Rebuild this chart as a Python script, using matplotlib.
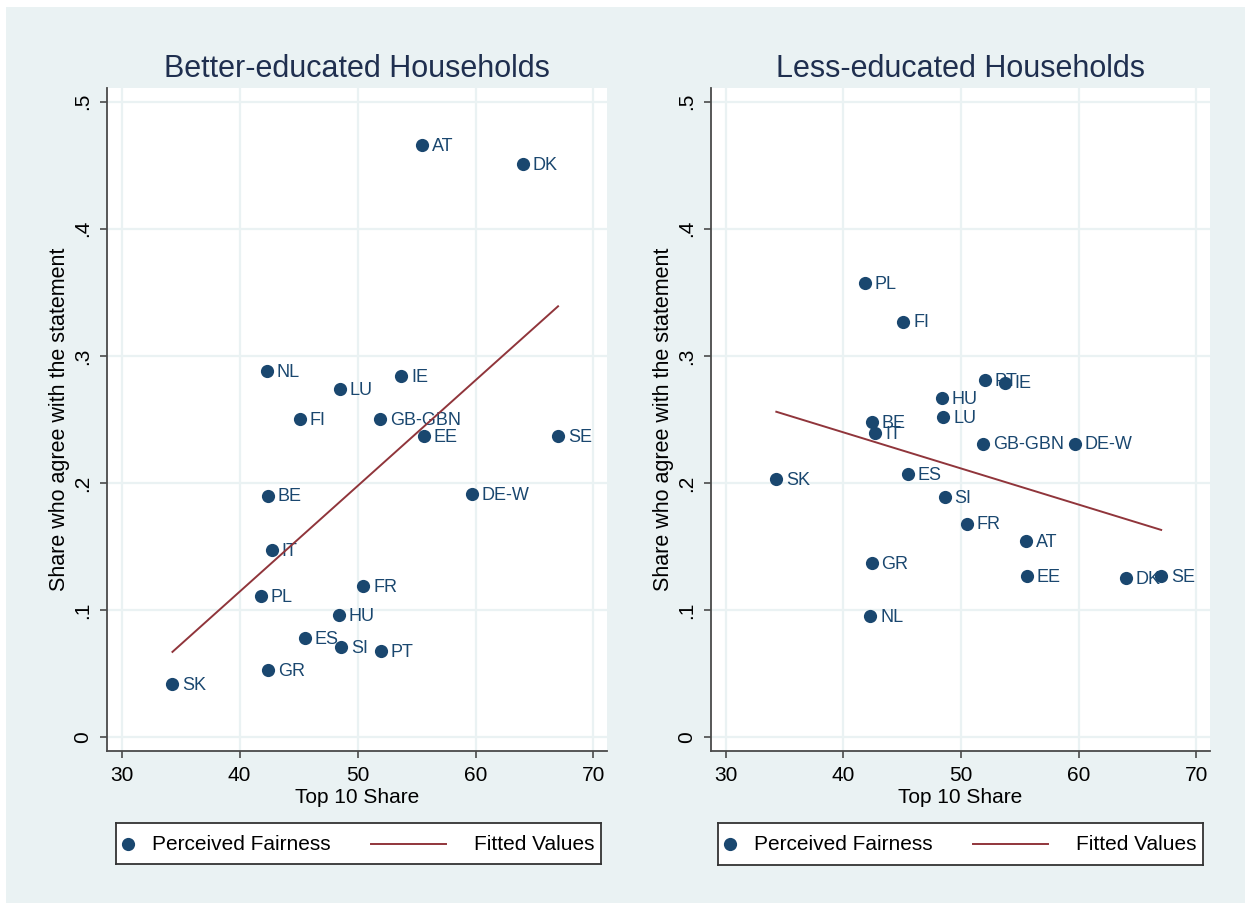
import matplotlib
matplotlib.use("Agg")
import matplotlib.pyplot as plt
from matplotlib.patches import Rectangle

plt.rcParams['font.family'] = ['Liberation Sans', 'DejaVu Sans']

# ---------------- data ----------------
countries = ["SK", "PL", "NL", "GR", "BE", "IT", "FI", "ES", "HU", "LU",
             "SI", "FR", "GB-GBN", "PT", "IE", "AT", "EE", "DE-W", "DK", "SE"]
top10_share = [34.3, 41.8, 42.3, 42.4, 42.4, 42.7, 45.1, 45.5, 48.4, 48.5,
               48.6, 50.5, 51.9, 52.0, 53.7, 55.5, 55.6, 59.7, 64.0, 67.0]
better_educated = [0.042, 0.111, 0.288, 0.053, 0.190, 0.147, 0.250, 0.078, 0.096, 0.274,
                   0.071, 0.119, 0.250, 0.068, 0.284, 0.466, 0.237, 0.191, 0.451, 0.237]
less_educated = [0.203, 0.357, 0.095, 0.137, 0.248, 0.239, 0.327, 0.207, 0.267, 0.252,
                 0.189, 0.168, 0.231, 0.281, 0.279, 0.154, 0.127, 0.231, 0.125, 0.127]
fit_x = [34.3, 67.0]
fit_better = [0.067, 0.339]
fit_less = [0.256, 0.163]

titles = ["Better-educated Households", "Less-educated Households"]
xticks = [30, 40, 50, 60, 70]
yticks = [0, 0.1, 0.2, 0.3, 0.4, 0.5]
ytick_labels = ["0", ".1", ".2", ".3", ".4", ".5"]
xlabel = "Top 10 Share"
ylabel = "Share who agree with the statement"
legend_labels = ["Perceived Fairness", "Fitted Values"]

# ---------------- style ----------------
W, H = 1251, 909
BG = "#EAF2F3"
NAVY = "#1A476F"
MAROON = "#90353B"
AXCOL = "#4a4a4a"

fig = plt.figure(figsize=(W / 100, H / 100), dpi=100, facecolor="white")
fig.patches.append(Rectangle((6 / W, 1 - 903 / H), (1245 - 6) / W, (903 - 7) / H,
                             transform=fig.transFigure, facecolor=BG, edgecolor="none", zorder=-10))

def px_rect(x0, y0, x1, y1):
    return [x0 / W, 1 - y1 / H, (x1 - x0) / W, (y1 - y0) / H]

panels = [
    dict(ax=px_rect(107, 88, 607, 751), y=better_educated, fit=fit_better,
         leg=px_rect(116, 823, 601, 864), title=titles[0]),
    dict(ax=px_rect(711, 88, 1210, 751), y=less_educated, fit=fit_less,
         leg=px_rect(718, 823, 1203, 865), title=titles[1]),
]

for p in panels:
    ax = fig.add_axes(p["ax"])
    ax.set_facecolor("white")
    ax.set_xlim(28.75, 71.15)
    ax.set_ylim(-0.011, 0.5108)
    ax.set_xticks(xticks)
    ax.set_xticklabels([str(t) for t in xticks])
    ax.set_yticks(yticks)
    ax.set_yticklabels(ytick_labels, rotation=90, va="center")
    ax.grid(True, color=BG, linewidth=1.6, zorder=0)
    ax.set_axisbelow(True)
    for s in ["top", "right"]:
        ax.spines[s].set_visible(False)
    for s in ["left", "bottom"]:
        ax.spines[s].set_color(AXCOL)
        ax.spines[s].set_linewidth(1.3)
    ax.tick_params(axis="both", direction="out", length=5, width=1.2, color=AXCOL,
                   labelsize=15, labelcolor="black", pad=6)
    ax.set_xlabel(xlabel, fontsize=15, color="black", labelpad=2)
    ax.set_ylabel(ylabel, fontsize=15.5, color="black", labelpad=2)
    ax.set_title(p["title"], fontsize=22, color="#1F2F4F", pad=8)

    for c, xv, yv in zip(countries, top10_share, p["y"]):
        ax.annotate(c, (xv, yv), xytext=(7, -1), textcoords="offset points",
                    fontsize=13, color=NAVY, va="center", ha="left", zorder=2)
    ax.plot(top10_share, p["y"], linestyle="none", marker="o", markersize=9.5,
            color=NAVY, markeredgewidth=0, zorder=3)
    ax.plot(fit_x, p["fit"], color=MAROON, linewidth=1.4, zorder=4)

    # legend box
    lg = fig.add_axes(p["leg"])
    lg.set_xlim(0, 1)
    lg.set_ylim(0, 1)
    lg.set_xticks([])
    lg.set_yticks([])
    lg.set_facecolor("white")
    for s in lg.spines.values():
        s.set_color("#333333")
        s.set_linewidth(1.3)
    lg.plot([0.025], [0.5], marker="o", markersize=9.5, color=NAVY, markeredgewidth=0)
    lg.text(0.074, 0.48, legend_labels[0], fontsize=15, va="center", ha="left", color="black")
    lg.plot([0.525, 0.68], [0.5, 0.5], color=MAROON, linewidth=1.4)
    lg.text(0.987, 0.48, legend_labels[1], fontsize=15, va="center", ha="right", color="black")

fig.savefig("out.png", dpi=100, facecolor="white")
